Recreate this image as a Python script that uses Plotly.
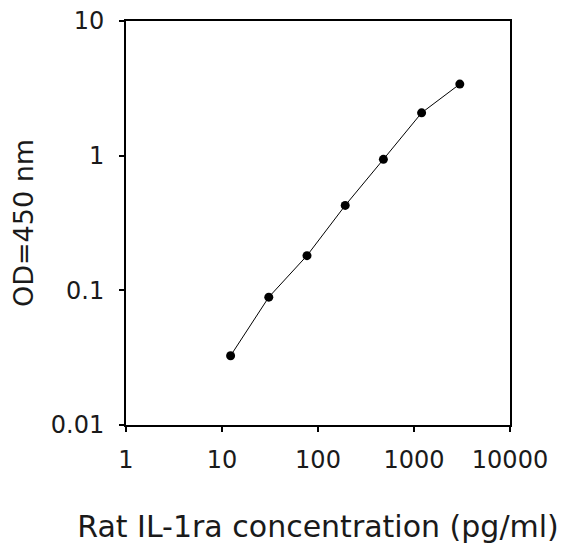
import plotly.graph_objects as go

conc = [12.29, 30.72, 76.8, 192, 480, 1200, 3000]
od = [0.0327, 0.0890, 0.181, 0.427, 0.939, 2.08, 3.40]

x_ticks = [1, 10, 100, 1000, 10000]
x_tick_labels = ["1", "10", "100", "1000", "10000"]
y_ticks = [0.01, 0.1, 1, 10]
y_tick_labels = ["0.01", "0.1", "1", "10"]

fig = go.Figure()
fig.add_trace(go.Scatter(
    x=conc, y=od, mode="lines+markers",
    line=dict(color="black", width=1),
    marker=dict(color="black", size=9, symbol="circle"),
    showlegend=False,
))

font = "DejaVu Sans, Verdana, sans-serif"
fig.update_layout(
    width=578, height=554,
    margin=dict(l=118, r=76, t=13, b=137),
    paper_bgcolor="white", plot_bgcolor="white",
    font=dict(family=font, color="#1a1a1a"),
)
fig.update_xaxes(
    type="log", range=[0, 4], automargin=False,
    tickvals=x_ticks, ticktext=x_tick_labels,
    ticks="outside", ticklen=5, tickcolor="black", tickwidth=2,
    showline=True, linecolor="black", linewidth=2, mirror=True,
    showgrid=False, zeroline=False,
    tickfont=dict(size=24, family=font),
    ticklabelstandoff=7, ticklabeloverflow="allow",
    title=dict(text="Rat IL-1ra concentration (pg/ml)", font=dict(size=30, family=font), standoff=43),
)
fig.update_yaxes(
    type="log", range=[-2, 1], automargin=False,
    tickvals=y_ticks, ticktext=y_tick_labels,
    ticks="outside", ticklen=5, tickcolor="black", tickwidth=2,
    showline=True, linecolor="black", linewidth=2, mirror=True,
    showgrid=False, zeroline=False,
    tickfont=dict(size=24, family=font),
    ticklabelstandoff=10, ticklabeloverflow="allow",
    title=dict(text="OD=450 nm", font=dict(size=27, family=font), standoff=14),
)
fig.write_html("out.html")
